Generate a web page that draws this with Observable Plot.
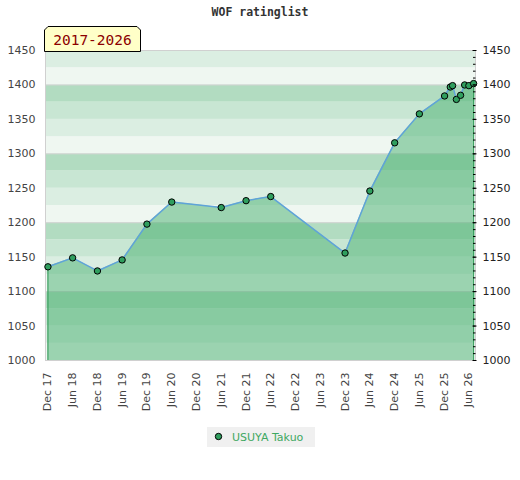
<!DOCTYPE html>
<html>
<head>
<meta charset="utf-8">
<script src="https://cdn.jsdelivr.net/npm/d3@7"></script>
<script src="https://cdn.jsdelivr.net/npm/@observablehq/plot@0.6"></script>
<style>
  body { margin: 0; background: #fff; }
  #wrap { position: relative; width: 520px; height: 480px; font-family: "DejaVu Sans", sans-serif; }
  #title { position: absolute; left: 0; width: 520px; top: 5px; text-align: center;
           font-family: "DejaVu Sans Mono", monospace; font-weight: bold; font-size: 11.5px; color: #333; }
  #badge { position: absolute; left: 44px; top: 26px; }
  #legend { position: absolute; left: 207px; top: 427px; width: 108px; height: 20px; background: #f0f0f0; }
</style>
</head>
<body>
<div id="wrap">
  <div id="chart"></div>
  <div id="title">WOF ratinglist</div>
  <svg id="badge" width="100" height="26">
    <polygon points="0.5,25.5 0.5,4 4,0.5 93,0.5 96.5,4 96.5,25.5" fill="#ffffc8" stroke="#000" stroke-width="1"/>
    <text x="48.5" y="19" text-anchor="middle" font-family="DejaVu Sans Mono, monospace" font-size="14.5" fill="#8c0000">2017-2026</text>
  </svg>
  <svg id="legend" width="108" height="20">
    <circle cx="11.5" cy="9.5" r="3.2" fill="#2f9e5e" stroke="#000" stroke-width="1"/>
    <text x="25" y="14" font-family="DejaVu Sans, sans-serif" font-size="11" fill="#3fa862">USUYA Takuo</text>
  </svg>
</div>
<script>
const dates = ["2017-12-01","2018-06-01","2018-12-01","2019-06-01","2019-12-01","2020-06-01",
  "2021-06-01","2021-12-01","2022-06-01","2023-12-01","2024-06-01","2024-12-01","2025-06-01",
  "2025-12-04","2026-01-15","2026-02-01","2026-03-01","2026-04-01","2026-05-01","2026-06-01","2026-07-06"];
const ratings = [1136,1149,1130,1146,1198,1230,1222,1232,1238,1156,1246,1316,1358,
  1384,1397,1399,1379,1385,1400,1399,1402];
const xTickDates = ["2017-12-01","2018-06-01","2018-12-01","2019-06-01","2019-12-01","2020-06-01",
  "2020-12-01","2021-06-01","2021-12-01","2022-06-01","2022-12-01","2023-06-01","2023-12-01",
  "2024-06-01","2024-12-01","2025-06-01","2025-12-01","2026-06-01"];
const yTicks = [1000,1050,1100,1150,1200,1250,1300,1350,1400,1450];
const yMinorTicks = [1000,1010,1020,1030,1040,1050,1060,1070,1080,1090,1100,1110,1120,1130,1140,1150,
  1160,1170,1180,1190,1200,1210,1220,1230,1240,1250,1260,1270,1280,1290,1300,1310,1320,1330,1340,1350,
  1360,1370,1380,1390,1400,1410,1420,1430,1440,1450];
const bandLows = [1000,1025,1050,1075,1100,1125,1150,1175,1200,1225,1250,1275,1300,1325,1350,1375,1400,1425];
const bandColors = ["#eff7f1","#dbeee2","#c8e6d3","#b2dcc1"];
const gridLines = [1100,1200,1300,1400];

const parse = d3.utcParse("%Y-%m-%d");
const data = dates.map((d, i) => ({date: parse(d), rating: ratings[i]}));
const bands = bandLows.map((v, i) => ({lo: v, hi: v + 25, color: bandColors[i % 4]}));
const first = data[0], last = data[data.length - 1];
const plain = d => String(d);

const chart = Plot.plot({
  width: 520,
  height: 480,
  marginTop: 50,
  marginBottom: 120,
  marginLeft: 45,
  marginRight: 45,
  style: {fontFamily: "DejaVu Sans, sans-serif", fontSize: "11px", color: "#444", background: "transparent"},
  x: {type: "utc", domain: [parse("2017-11-13"), parse("2026-07-20")]},
  y: {domain: [1000, 1450]},
  marks: [
    Plot.rect(bands, {y1: "lo", y2: "hi", fill: "color"}),
    Plot.ruleY(gridLines, {stroke: "#d4d4d4"}),
    Plot.frame({stroke: "#d0d0d0"}),
    Plot.areaY(data, {x: "date", y1: 1000, y2: "rating", fill: "rgb(72,175,112)", fillOpacity: 0.5}),
    Plot.ruleX([first, last], {x: "date", y1: 1000, y2: "rating", stroke: "#2f9a55"}),
    Plot.lineY(data, {x: "date", y: "rating", stroke: "#5fa3d9", strokeWidth: 1.5}),
    Plot.dot(data, {x: "date", y: "rating", r: 3.2, fill: "#2f9e5e", stroke: "#000", strokeWidth: 1}),
    Plot.axisY({anchor: "left", ticks: yTicks, tickFormat: plain, tickSize: 0, tickPadding: 10, label: null, fill: "#444"}),
    Plot.axisY({anchor: "right", ticks: yTicks, tickFormat: plain, tickSize: 0, tickPadding: 7, label: null, fill: "#222"}),
    Plot.axisY({anchor: "right", ticks: yMinorTicks, tickSize: 2.5, dx: -3, tickFormat: () => "", label: null, stroke: "#000"}),
    Plot.axisY({anchor: "right", ticks: yTicks, tickSize: 4, dx: -3.5, tickFormat: () => "", label: null, stroke: "#000"}),
    Plot.axisX({ticks: xTickDates.map(parse), tickFormat: d3.utcFormat("%b %y"), tickRotate: -90,
      tickSize: 0, tickPadding: 12, label: null, fill: "#444"})
  ]
});
document.getElementById("chart").appendChild(chart);
</script>
</body>
</html>
